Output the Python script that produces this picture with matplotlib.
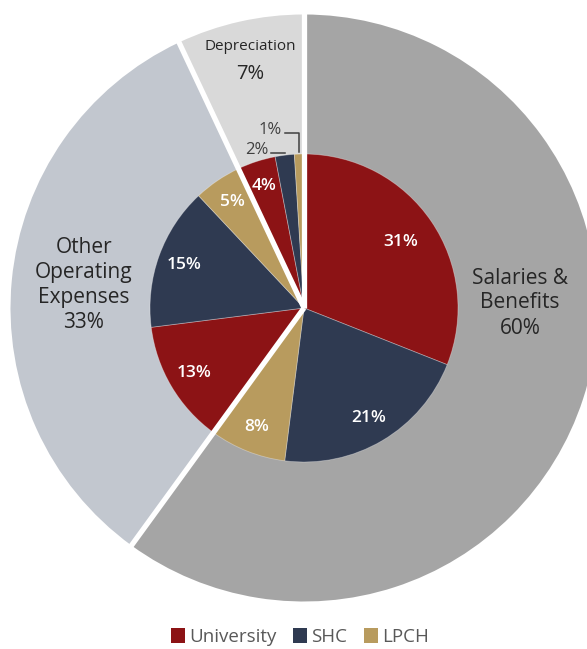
import matplotlib
matplotlib.use('Agg')
import matplotlib.pyplot as plt
from matplotlib.patches import Patch
import numpy as np

plt.rcParams['font.family'] = ['Open Sans', 'DejaVu Sans']

# ---- data ----
outer_labels = ['Salaries &\nBenefits', 'Other\nOperating\nExpenses', 'Depreciation']
outer_values = [60, 33, 7]
outer_colors = ['#a5a5a5', '#c2c7cf', '#d9d9d9']

inner_values = [31, 21, 8, 13, 15, 5, 4, 2, 1]
inner_entities = ['University', 'SHC', 'LPCH'] * 3
entity_names = ['University', 'SHC', 'LPCH']
entity_colors = ['#8c1315', '#2f3a51', '#b89b5e']

W, H = 587, 649
fig = plt.figure(figsize=(W / 100, H / 100), dpi=100)
ax = fig.add_axes([0, 0, 1, 1])
cx, cy = 304, H - 308
R_out, R_in = 293.5, 154

ax.pie(outer_values, colors=outer_colors, radius=R_out, center=(cx, cy),
       startangle=90, counterclock=False, wedgeprops=dict(linewidth=0))
inner_cols = [entity_colors[entity_names.index(e)] for e in inner_entities]
ax.pie(inner_values, colors=inner_cols, radius=R_in, center=(cx, cy),
       startangle=90, counterclock=False,
       wedgeprops=dict(linewidth=0.6, edgecolor=(1, 1, 1, 0.35)))

# white separators between the outer groups
cum = np.cumsum([0] + outer_values)
for c in cum[:-1]:
    ang = np.deg2rad(90 - 3.6 * c)
    ax.plot([cx, cx + R_out * 1.02 * np.cos(ang)], [cy, cy + R_out * 1.02 * np.sin(ang)],
            color='white', lw=3.8, solid_capstyle='butt', zorder=5)

# inner percentage labels
icum = np.cumsum([0] + inner_values)
txt_dark = '#404040'
for i, v in enumerate(inner_values):
    mid = np.deg2rad(90 - 3.6 * (icum[i] + v / 2))
    if v >= 3:
        r = (0.76 if v > 30 else 0.83) * R_in
        ax.text(cx + r * np.cos(mid), cy + r * np.sin(mid), f'{v}%', color='white',
                fontsize=12.5, fontweight='semibold', ha='center', va='center', zorder=6)

# leader-labelled small slices (2% and 1%)
small = [(7, 150, 268), (8, 130, 282)]  # index, text y(px from top), text right x
for idx, ty, tx in small:
    v = inner_values[idx]
    mid = np.deg2rad(90 - 3.6 * (icum[idx] + v / 2))
    ex, ey = cx + R_in * np.cos(mid), cy + R_in * np.sin(mid)
    ax.plot([tx + 3, ex, ex], [H - ty - 3, H - ty - 3, ey + 2], color=txt_dark, lw=1.1, zorder=6)
    ax.text(tx, H - ty, f'{v}%', color=txt_dark, fontsize=12,
            ha='right', va='center', zorder=6)

# outer labels
ax.text(520, H - 303, f'{outer_labels[0]}\n{outer_values[0]}%', ha='center', va='center',
        fontsize=15, color='#262626', linespacing=1.25)
ax.text(84, H - 285, f'{outer_labels[1]}\n{outer_values[1]}%', ha='center', va='center',
        fontsize=15, color='#262626', linespacing=1.25)
ax.text(250, H - 47, outer_labels[2], ha='center', va='center', fontsize=11, color='#262626')
ax.text(250, H - 74, f'{outer_values[2]}%', ha='center', va='center', fontsize=14.5, color='#262626')

ax.set_xlim(0, W)
ax.set_ylim(0, H)
ax.set_aspect('equal')
ax.axis('off')

handles = [Patch(facecolor=c, edgecolor='none') for c in entity_colors]
fig.legend(handles, entity_names, loc='center', bbox_to_anchor=(300 / W, 1 - 637 / H), ncol=3,
           frameon=False, fontsize=13.5, handlelength=0.75, handleheight=0.8,
           handletextpad=0.2, columnspacing=0.9, labelcolor='#595959')

fig.savefig('out.png', dpi=100)
